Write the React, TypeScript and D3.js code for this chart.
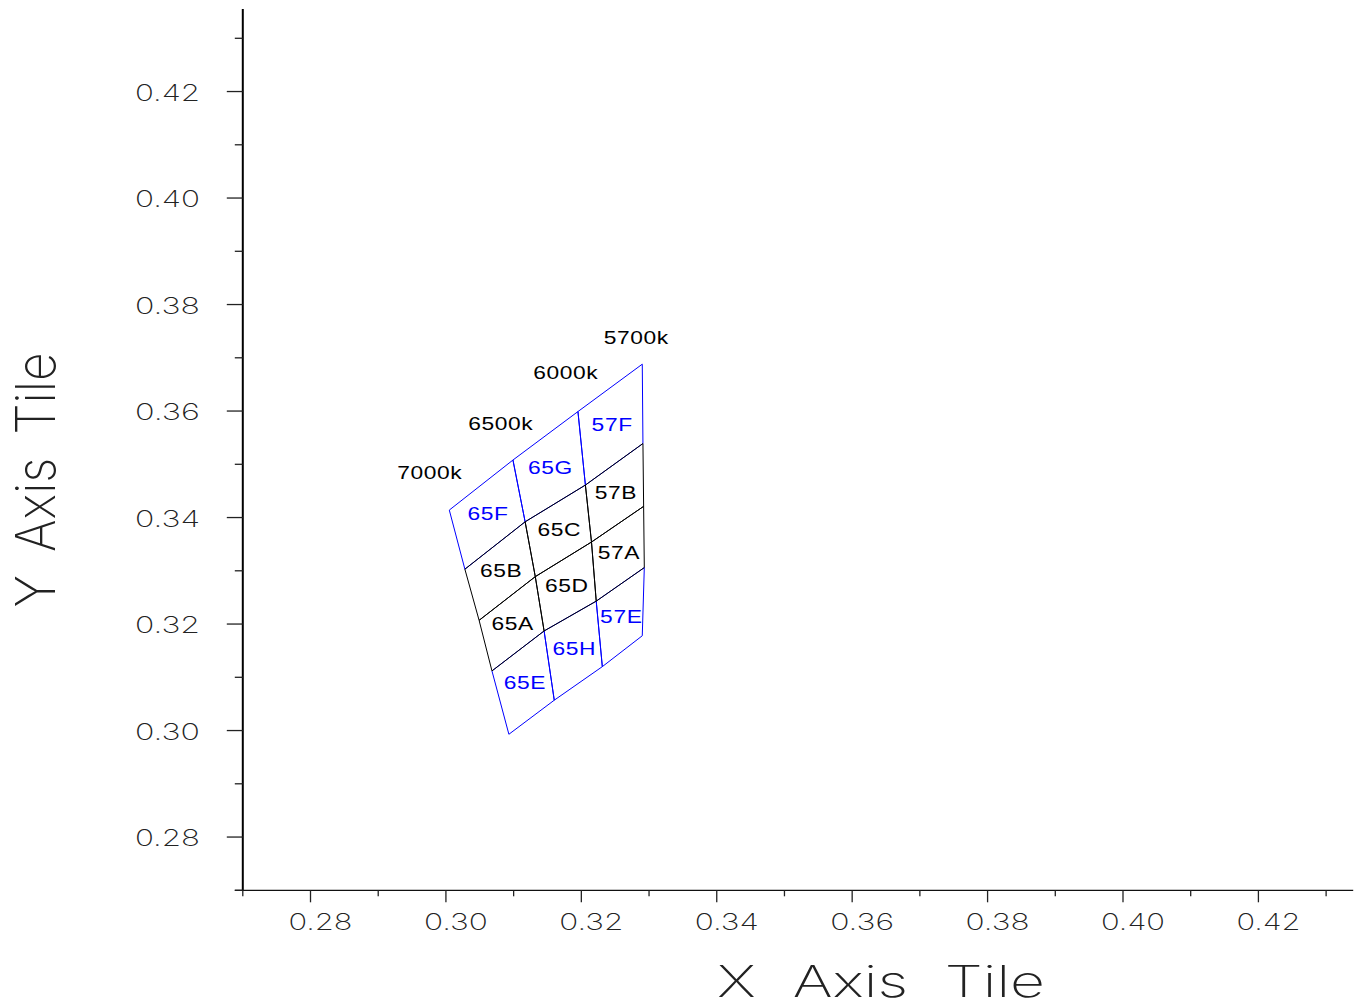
import React from 'react';
import * as d3 from 'd3';

// Isotherm (CCT) lines, each from top row to bottom row (x, y chromaticity)
const cctNames = ['7000k', '6500k', '6000k', '5700k'];
const isoX = [
  [0.3005, 0.3028, 0.3049, 0.3068, 0.3093],
  [0.3099, 0.3117, 0.3132, 0.3145, 0.3160],
  [0.3195, 0.3206, 0.3215, 0.3222, 0.3231],
  [0.3290, 0.3291, 0.3292, 0.3293, 0.3290],
];
const isoY = [
  [0.3414, 0.3303, 0.3207, 0.3112, 0.2993],
  [0.3508, 0.3392, 0.3289, 0.3187, 0.3057],
  [0.3599, 0.3461, 0.3354, 0.3243, 0.3120],
  [0.3688, 0.3539, 0.3421, 0.3306, 0.3178],
];
const cctLabelX = [0.2976, 0.3081, 0.3177, 0.3281];
const cctLabelY = [0.3485, 0.3577, 0.3673, 0.3738];

// Bins by row (top to bottom) and column (7000-6500, 6500-6000, 6000-5700)
const binNames = [
  ['65F', '65G', '57F'],
  ['65B', '65C', '57B'],
  ['65A', '65D', '57A'],
  ['65E', '65H', '57E'],
];
const binOuter = [true, false, false, true];

const majorTicks = [0.28, 0.30, 0.32, 0.34, 0.36, 0.38, 0.40, 0.42];
const minorTicks = [0.27, 0.29, 0.31, 0.33, 0.35, 0.37, 0.39, 0.41, 0.43];

const W = 1361;
const H = 1005;

export default function App() {
  const x = d3.scaleLinear().domain([0.27, 0.434]).range([242.8, 1353.2]);
  const y = d3.scaleLinear().domain([0.27, 0.4355]).range([890.3, 9]);
  const line = d3.line<[number, number]>().x(d => x(d[0])).y(d => y(d[1]));

  const cells: { name: string; blue: boolean; pts: [number, number][] }[] = [];
  binNames.forEach((row, r) => {
    row.forEach((name, c) => {
      const pts: [number, number][] = [
        [isoX[c][r], isoY[c][r]],
        [isoX[c + 1][r], isoY[c + 1][r]],
        [isoX[c + 1][r + 1], isoY[c + 1][r + 1]],
        [isoX[c][r + 1], isoY[c][r + 1]],
      ];
      cells.push({ name, blue: binOuter[r], pts });
    });
  });
  const ordered = [...cells.filter(c => c.blue), ...cells.filter(c => !c.blue)];

  const tickFont = { fontFamily: 'Inter', fontWeight: 200, fontSize: 23 } as const;

  return (
    <svg width={W} height={H} style={{ position: 'absolute', left: 0, top: 0, background: '#fff' }}>
      <rect x={0} y={0} width={W} height={H} fill="#fff" />
      {/* axes */}
      <line x1={x(0.27)} x2={x(0.27)} y1={y(0.4355)} y2={y(0.27)} stroke="#000" strokeWidth={2} />
      <line x1={x(0.27) - 8} x2={x(0.434)} y1={y(0.27)} y2={y(0.27)} stroke="#111" strokeWidth={1.2} />
      {majorTicks.map(t => (
        <g key={'mx' + t}>
          <line x1={x(t)} x2={x(t)} y1={y(0.27)} y2={y(0.27) + 12} stroke="#222" strokeWidth={1.3} />
          <line x1={x(0.27) - 16} x2={x(0.27)} y1={y(t)} y2={y(t)} stroke="#222" strokeWidth={1.3} />
          <text x={x(t) + 10} y={y(0.27) + 32} textAnchor="middle" dominantBaseline="central"
            textLength={64} lengthAdjust="spacingAndGlyphs" fill="#222" {...tickFont}>
            {t.toFixed(2)}
          </text>
          <text x={200} y={y(t) + 1} textAnchor="end" dominantBaseline="central"
            textLength={65} lengthAdjust="spacingAndGlyphs" fill="#222" {...tickFont}>
            {t.toFixed(2)}
          </text>
        </g>
      ))}
      {minorTicks.map(t => (
        <g key={'mn' + t}>
          <line x1={x(t)} x2={x(t)} y1={y(0.27)} y2={y(0.27) + 6} stroke="#222" strokeWidth={1.3} />
          <line x1={x(0.27) - 8} x2={x(0.27)} y1={y(t)} y2={y(t)} stroke="#222" strokeWidth={1.3} />
        </g>
      ))}
      {/* axis titles */}
      <text x={881} y={981} textAnchor="middle" dominantBaseline="central" textLength={328}
        lengthAdjust="spacingAndGlyphs" fill="#222" style={{ wordSpacing: 14 }}
        fontFamily="Inter" fontWeight={200} fontSize={43}>
        X Axis Tile
      </text>
      <text transform="translate(35,480) rotate(-90)" textAnchor="middle" dominantBaseline="central"
        textLength={255} lengthAdjust="spacingAndGlyphs" fill="#222" style={{ wordSpacing: 10 }}
        fontFamily="Inter" fontWeight={200} fontSize={55}>
        Y Axis Tile
      </text>
      {/* bins */}
      {ordered.map(c => (
        <path key={'p' + c.name} d={line([...c.pts, c.pts[0]]) || ''} fill="none"
          stroke={c.blue ? '#0000ff' : '#000'} strokeWidth={1} />
      ))}
      {cells.map(c => {
        const cx = d3.mean(c.pts, p => x(p[0])) as number;
        const cy = d3.mean(c.pts, p => y(p[1])) as number;
        return (
          <text key={'t' + c.name} transform={`translate(${cx},${cy - 2}) scale(1.2,1)`}
            textAnchor="middle" dominantBaseline="central" fill={c.blue ? '#0000ff' : '#000'}
            fontFamily="Liberation Sans" fontSize={19} letterSpacing={0.5}>
            {c.name}
          </text>
        );
      })}
      {cctNames.map((n, i) => (
        <text key={'c' + n} transform={`translate(${x(cctLabelX[i])},${y(cctLabelY[i])}) scale(1.2,1)`}
          textAnchor="middle" dominantBaseline="central" fill="#000"
          fontFamily="Liberation Sans" fontSize={19} letterSpacing={0.5}>
          {n}
        </text>
      ))}
    </svg>
  );
}
